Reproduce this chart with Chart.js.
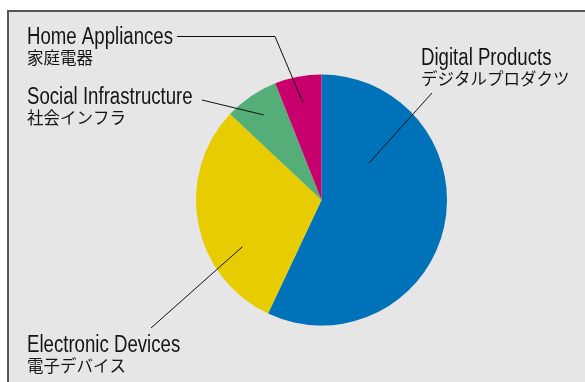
<!DOCTYPE html>
<html>
<head>
<meta charset="utf-8">
<script src="https://cdn.jsdelivr.net/npm/chart.js@4"></script>
<style>
  body { margin: 0; background: #fff; }
  canvas { display: block; }
</style>
</head>
<body>
<canvas id="salesChart" width="585" height="382"></canvas>
<script>
// Sales share by segment (%)
const segmentsEn = ['Digital Products', 'Electronic Devices', 'Social Infrastructure', 'Home Appliances'];
const segmentsJa = ['デジタルプロダクツ', '電子デバイス', '社会インフラ', '家庭電器'];
const shares = [57, 30, 7, 6];
const sliceColors = ['#0072b9', '#e6cc00', '#55ae78', '#c8006e'];

// label placement and leader lines, one entry per segment
// text: left x / baseline of first line; path: fixed points near the label;
// anchor: t = fraction along the slice's arc, f = fraction of the radius
const callouts = [
  { x: 421, y: 65, path: [[432, 93]], anchor: { t: 0.254, f: 0.48 } },
  { x: 27, y: 352, path: [[151, 328]], anchor: { t: 0.317, f: 0.73 } },
  { x: 27, y: 104, path: [[202, 100]], anchor: { t: 0.5, f: 0.82 } },
  { x: 27, y: 44, path: [[177, 36.5], [275, 36.5]], anchor: { t: 0.5, f: 0.79 } }
];

const latinFont = '23px "Liberation Sans", Arial, sans-serif';
const narrow = 0.81; // horizontal squeeze for a condensed look

const panel = {
  id: 'panel',
  beforeDraw(chart) {
    const c = chart.ctx;
    c.save();
    c.fillStyle = '#ffffff';
    c.fillRect(0, 0, chart.width, chart.height);
    c.fillStyle = '#e6e6e6';
    c.fillRect(8, 11, chart.width, chart.height);
    c.strokeStyle = '#555555';
    c.lineWidth = 2;
    c.beginPath();
    c.moveTo(8, chart.height + 2);
    c.lineTo(8, 11);
    c.lineTo(chart.width + 2, 11);
    c.stroke();
    c.restore();
  }
};

const calloutLabels = {
  id: 'calloutLabels',
  afterDatasetsDraw(chart) {
    const c = chart.ctx;
    const arcs = chart.getDatasetMeta(0).data;
    c.save();
    callouts.forEach((co, i) => {
      const p = arcs[i].getProps(['x', 'y', 'startAngle', 'endAngle', 'outerRadius'], true);
      const a = p.startAngle + co.anchor.t * (p.endAngle - p.startAngle);
      const r = co.anchor.f * p.outerRadius;
      const ax = p.x + Math.cos(a) * r;
      const ay = p.y + Math.sin(a) * r;

      c.strokeStyle = '#111';
      c.lineWidth = 1;
      c.beginPath();
      c.moveTo(co.path[0][0], co.path[0][1]);
      co.path.slice(1).forEach(pt => c.lineTo(pt[0], pt[1]));
      c.lineTo(ax, ay);
      c.stroke();

      c.fillStyle = '#151515';
      c.textAlign = 'left';
      c.textBaseline = 'alphabetic';
      c.save();
      c.translate(co.x, co.y);
      c.scale(narrow, 1);
      c.font = latinFont;
      c.fillText(segmentsEn[i], 0, 0);
      c.restore();
      c.font = '16.5px "Noto Sans CJK JP", sans-serif';
      c.fillText(segmentsJa[i], co.x, co.y + 19.5);
    });
    c.restore();
  }
};

new Chart(document.getElementById('salesChart'), {
  type: 'pie',
  data: {
    labels: segmentsEn,
    datasets: [{
      data: shares,
      backgroundColor: sliceColors,
      borderWidth: 0
    }]
  },
  options: {
    responsive: false,
    animation: false,
    layout: {
      padding: { left: 196, right: 138, top: 74.5, bottom: 56.5 }
    },
    plugins: {
      legend: { display: false },
      tooltip: { enabled: false }
    }
  },
  plugins: [panel, calloutLabels]
});
</script>
</body>
</html>
